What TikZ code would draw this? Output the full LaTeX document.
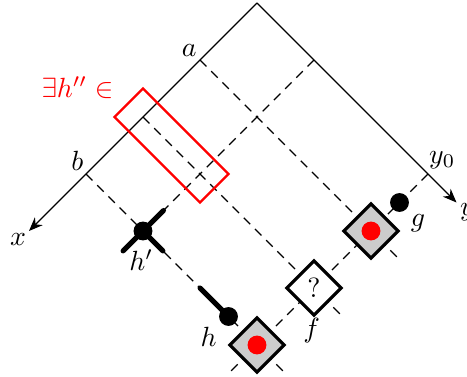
\documentclass[tikz,border=0pt]{standalone}
\usetikzlibrary{shapes.geometric,arrows.meta}
\begin{document}
\begin{tikzpicture}[x={(-20.52pt,-20.52pt)}, y={(20.52pt,-20.52pt)},
  axis/.style={line width=0.45pt, -{Stealth[length=5pt,width=4pt]}},
  gridline/.style={dash pattern=on 3.3pt off 2.4pt, line width=0.45pt},
  box/.style={diamond, draw, line width=1.1pt, minimum size=20pt, inner sep=0pt, aspect=1},
  blackdot/.style={circle, fill=black, inner sep=0pt, minimum size=6.8pt},
  reddot/.style={circle, fill=red, inner sep=0pt, minimum size=6.8pt},
  arm/.style={line width=1.8pt, line cap=round},
  lbl/.style={inner sep=0pt}
]
\useasboundingbox (-92.52pt,1.08pt) rectangle (75.6pt,-134.64pt);
% coordinates
\coordinate (O) at (0,0);
\coordinate (X) at (4,0);
\coordinate (Y) at (0,3.5);
\coordinate (A) at (1,0);
\coordinate (M) at (2,0);
\coordinate (B) at (3,0);
\coordinate (Y1) at (0,1);
\coordinate (Y0) at (0,3);
\coordinate (Aend) at (1,3.5);
\coordinate (Mend) at (2,3.5);
\coordinate (Bend) at (3,3.5);
\coordinate (Y0end) at (3.5,3);
\coordinate (HP) at (3,1);
\coordinate (Hs) at (3,2);
\coordinate (armUR) at (2.64,1);
\coordinate (armDL) at (3.35,1);
\coordinate (armDR) at (3,1.35);
\coordinate (R1) at (1.75,-0.25);
\coordinate (R2) at (2.25,-0.25);
\coordinate (R3) at (2.25,1.25);
\coordinate (R4) at (1.75,1.25);
% axes
\draw[axis] (O) -- (X);
\draw[axis] (O) -- (Y);
% dashed grid
\draw[gridline] (A) -- (Aend);
\draw[gridline] (M) -- (Mend);
\draw[gridline] (B) -- (Bend);
\draw[gridline] (Y1) -- (HP);
\draw[gridline] (Y0) -- (Y0end);
% red box
\draw[red, line width=0.8pt] (R1) -- (R2) -- (R3) -- (R4) -- cycle;
% h' cross
\draw[arm] (HP) -- (armUR);
\draw[arm] (HP) -- (armDL);
\draw[arm] (HP) -- (armDR);
\node[blackdot] (hpdot) at (HP) {};
% h
\node[blackdot] (hdot) at (3,2.5) {};
\draw[arm] (Hs) -- (hdot.center);
% g dot
\node[blackdot] (gdot) at (0.5,3) {};
% boxes
\node[box, fill=black!20] (G) at (1,3) {};
\node[reddot] (Gr) at (G) {};
\node[box, fill=white] (F) at (2,3) {$?$};
\node[box, fill=black!20] (H) at (3,3) {};
\node[reddot] (Hr) at (H) {};
% labels
\node[lbl] (la) at (1.01,-0.18) {$a$};
\node[lbl] (lb) at (2.96,-0.19) {$b$};
\node[lbl, text=red] (lex) at (2.32,-0.83) {$\exists h'' \in$};
\node[lbl] (ly0) at (-0.25,3.0) {$y_0$};
\node[lbl] (lx) at (4.17,-0.02) {$x$};
\node[lbl] (ly) at (-0.01,3.68) {$y$};
\node[lbl] (lhp) at (3.27,1.24) {$h'$};
\node[lbl] (lh) at (3.35,2.5) {$h$};
\node[lbl] (lf) at (2.39,3.35) {$f$};
\node[lbl] (lg) at (0.515,3.34) {$g$};
\end{tikzpicture}
\end{document}
